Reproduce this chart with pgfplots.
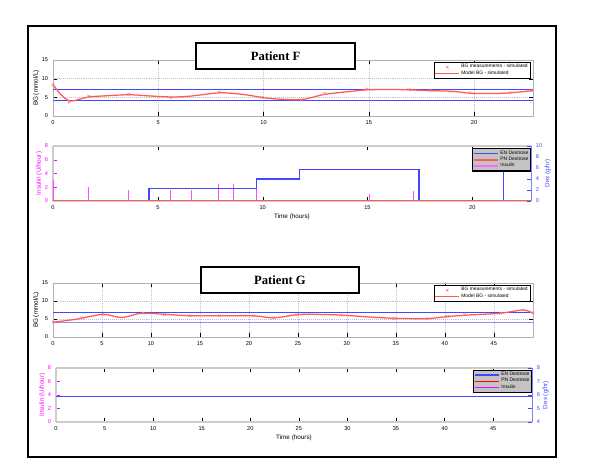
\documentclass[border=0pt]{standalone}
\usepackage{fontspec}
\setmainfont{Liberation Sans}
\newfontfamily\titlefont{Liberation Serif}
\usepackage{pgfplots}
\pgfplotsset{compat=1.18}

\definecolor{bgred}{RGB}{255,90,90}
\definecolor{limblue}{RGB}{70,70,255}
\definecolor{insmag}{RGB}{255,0,255}
\definecolor{leggray}{RGB}{195,195,195}

\pgfplotsset{
  panel/.style={
    scale only axis, width=12cm, height=1.4cm,
    /pgf/number format/assume math mode=true,
    tick label style={font=\fontsize{4}{5}\selectfont},
    label style={font=\fontsize{4.5}{5}\selectfont},
    axis line style={gray!60},
    major tick length=2.5pt,
    tick style={black},
    legend cell align=left,
  },
  bgpanel/.style={
    panel, xmin=0, ymin=0, ymax=15, ytick={0,5,10,15},
    grid=major, grid style={densely dotted, gray!50},
    ylabel={BG (mmol/L)}, ylabel shift=-5pt,
    legend style={at={(0.994,0.964)}, anchor=north east, draw=black,
      fill=white, font=\fontsize{3.5}{4}\selectfont, inner sep=0.5pt,
      row sep=-1.5pt, nodes={inner sep=1pt}},
  },
  insulin/.style={
    panel, ymin=0, ymax=8, ytick={0,2,4,6,8},
    axis y line*=left, xtick pos=both,
    y tick label style={insmag}, ytick style={insmag},
    ylabel={Insulin (U/hour)}, ylabel style={insmag}, ylabel shift=-5pt,
    xlabel={Time (hours)}, xlabel shift=-4pt,
    axis line style={gray!40, line width=0.8pt},
  },
  dex/.style={
    panel, axis y line*=right, axis x line=none,
    y tick label style={limblue}, ytick style={limblue},
    ylabel={Dex (g/hr)}, ylabel style={limblue}, ylabel shift=-5pt,
    axis line style={limblue!70},
    legend style={anchor=north east, draw=black, thick,
      fill=leggray, font=\fontsize{3.5}{4}\selectfont, inner sep=0.5pt,
      row sep=-1.5pt, nodes={inner sep=1pt}},
  },
}

\pgfplotstableread{
t    bg
0    8.4
0.76 3.7
1.7  5.3
3.6  5.8
5.6  4.9
7.9  6.4
9.9  5.0
11.8 4.3
12.9 6.0
14.9 7.2
16.9 7.1
17.9 6.8
19.8 6.2
21.7 6.2
22.7 6.8
}\measF

\pgfplotstableread{
t    bg
0    8.4
0.4  5.6
0.8  4.0
1.2  4.4
1.7  5.1
2.5  5.4
3.6  5.7
4.5  5.4
5.6  5.1
6.5  5.3
7.9  6.2
9.0  5.8
9.9  5.0
10.5 4.6
11.8 4.4
12.9 5.8
14.0 6.5
14.9 7.0
16.0 7.1
16.9 7.0
17.9 6.8
19.0 6.6
19.8 6.1
20.8 6.0
21.7 6.2
22.8 6.8
}\modelF

\pgfplotstableread{
t    bg
0    4.1
2.9  5.3
5.1  6.3
9.2  6.6
11.4 6.2
14.0 5.9
17.0 5.9
20.5 5.9
22.5 5.3
24.9 6.2
29.4 6.1
34.8 5.2
38.2 5.1
40.3 5.7
42.0 6.2
45.7 6.6
48.0 7.5
49.0 6.7
}\measG

\pgfplotstableread{
t    bg
0    4.1
2.5  5.0
5.1  6.3
7.0  5.4
9.0  6.6
11.4 6.3
14.0 5.9
17.0 5.9
20.5 5.9
22.5 5.3
24.9 6.2
26.6 6.3
29.4 6.1
32.0 5.6
34.8 5.2
38.2 5.1
40.3 5.7
43.0 6.2
45.7 6.6
48.0 7.5
49.0 6.6
}\modelG

\pgfplotstableread{
t    u
0    3.0
1.7  2.0
3.6  1.6
4.55 1.8
5.6  1.6
6.6  1.6
7.9  2.5
8.6  2.5
9.7  2.0
15.1 1.0
17.2 1.5
}\insF

\pgfplotstableread{
t     d
0     0
4.57  2.3
9.7   4.0
11.75 5.7
17.45 0
21.5  5.9
22.8  5.9
}\dexF

\begin{document}
\begin{tikzpicture}
\useasboundingbox (0,0) rectangle (15,11.6);

% ---------- Patient F, BG ----------
\begin{axis}[bgpanel, at={(1.325cm,8.7cm)}, anchor=south west,
    xmax=22.8, xtick={0,5,10,15,20}]
  \addplot[draw=limblue, line width=0.9pt, forget plot] coordinates {(0,7) (22.8,7)};
  \addplot[draw=limblue, line width=0.9pt, forget plot] coordinates {(0,4.2) (22.8,4.2)};
  \addplot[only marks, mark=x, mark size=1.3pt, draw=bgred!80] table {\measF};
  \addlegendentry{BG measurements - simulated}
  \addplot[draw=bgred, smooth, line width=0.9pt] table {\modelF};
  \addlegendentry{Model BG - simulated}
\end{axis}

% ---------- Patient F, inputs ----------
\begin{axis}[insulin, at={(1.325cm,6.575cm)}, anchor=south west,
    height=1.375cm, width=11.95cm, xmin=0, xmax=22.8, xtick={0,5,10,15,20}]
  \addplot[ycomb, draw=insmag!70, line width=0.8pt] table {\insF};
\end{axis}
\begin{axis}[dex, at={(1.325cm,6.575cm)}, anchor=south west,
    height=1.375cm, width=11.95cm, xmin=0, xmax=22.8,
    ymin=0, ymax=10, ytick={0,2,4,6,8,10},
    legend style={at={(1,0.96)}}]
  \addplot[const plot, draw=limblue, line width=1pt] table {\dexF};
  \addlegendentry{EN Dextrose}
  \addplot[draw=bgred, line width=1.1pt] coordinates {(0,0) (22.8,0)};
  \addlegendentry{PN Dextrose}
  \addlegendimage{draw=insmag!60, line width=1pt}
  \addlegendentry{Insulin}
\end{axis}

% ---------- Patient G, BG ----------
\begin{axis}[bgpanel, at={(1.325cm,3.175cm)}, anchor=south west,
    height=1.35cm, xmax=49, xtick={0,5,...,45}]
  \addplot[draw=limblue, line width=0.9pt, forget plot] coordinates {(0,6.9) (49,6.9)};
  \addplot[draw=limblue!60, line width=0.9pt, forget plot] coordinates {(0,4.0) (49,4.0)};
  \addplot[only marks, mark=x, mark size=1.3pt, draw=bgred!80] table {\measG};
  \addlegendentry{BG measurements - simulated}
  \addplot[draw=bgred, smooth, line width=0.9pt] table {\modelG};
  \addlegendentry{Model BG - simulated}
\end{axis}

% ---------- Patient G, inputs ----------
\begin{axis}[insulin, at={(1.4cm,1.05cm)}, anchor=south west,
    height=1.35cm, width=11.9cm, xmin=0, xmax=49, xtick={0,5,...,45}]
  \addplot[draw=none, forget plot] coordinates {(0,0) (49,0)};
\end{axis}
\begin{axis}[dex, at={(1.4cm,1.05cm)}, anchor=south west,
    height=1.35cm, width=11.9cm, xmin=0, xmax=49,
    ymin=4, ymax=8, ytick={4,5,6,7,8},
    legend style={at={(1,0.97)}}]
  \addplot[draw=limblue, line width=1pt] coordinates {(0,5.9) (49,5.9)};
  \addlegendentry{EN Dextrose}
  \addlegendimage{draw=red, line width=1pt}
  \addlegendentry{PN Dextrose}
  \addlegendimage{draw=insmag, line width=1pt}
  \addlegendentry{Insulin}
\end{axis}

% ---------- titles and frame ----------
\node[draw=black, line width=0.9pt, fill=white, minimum width=3.975cm,
  minimum height=0.65cm, font=\titlefont\bfseries\fontsize{9}{11}\selectfont]
  at (6.89,10.2) {Patient F};
\node[draw=black, line width=0.9pt, fill=white, minimum width=3.95cm,
  minimum height=0.65cm, font=\titlefont\bfseries\fontsize{9}{11}\selectfont]
  at (7.0,4.6) {Patient G};
\draw[line width=2pt] (0.7,0.175) rectangle (13.9,10.95);
\end{tikzpicture}
\end{document}
